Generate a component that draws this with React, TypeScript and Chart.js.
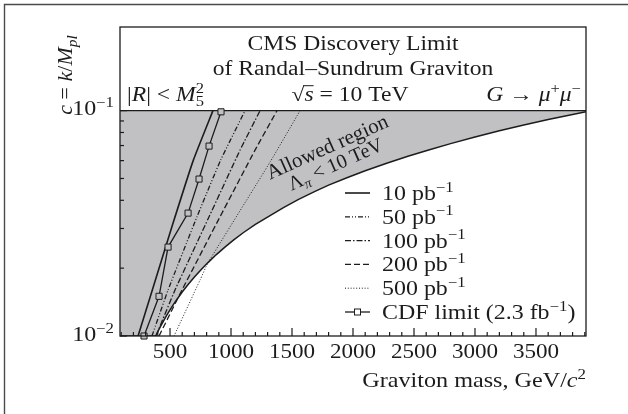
import React, { useEffect, useRef } from 'react';
import { Chart, registerables } from 'chart.js';

Chart.register(...registerables);

const FONT = '"Liberation Serif", "Times New Roman", Times, serif';
const INK = '#1c1c1c';
const SHADE = '#c1c1c4';

// Axes
const massRange = [90, 3910];
const cRange = [0.01, 0.235];
const massLabels = [500, 1000, 1500, 2000, 2500, 3000, 3500];
const cLabels = [0.01, 0.1];
const cLabelExp = ['−2', '−1'];
const cLimit = 0.1;

// Allowed-region boundary (Λπ < 10 TeV)
const boundaryMass = [
  90, 383, 400, 420, 445, 470, 500, 530, 565, 600, 650, 700, 760, 811, 880, 950, 1020, 1100, 1200, 1320, 1430, 1550,
  1680, 1800, 1950, 2100, 2270, 2450, 2620, 2800, 3000, 3200, 3400, 3600, 3750, 3910,
];
const boundaryC = [
  0.01, 0.01, 0.01044, 0.01097, 0.01162, 0.01227, 0.01305, 0.01384, 0.01475, 0.01567, 0.01697, 0.01828, 0.01984,
  0.02117, 0.02298, 0.0248, 0.02663, 0.02872, 0.0313, 0.0342, 0.0371, 0.0403, 0.0436, 0.0467, 0.0504, 0.0541, 0.0583,
  0.0627, 0.0669, 0.0714, 0.0764, 0.0814, 0.0863, 0.0913, 0.095, 0.0988,
];

// Discovery limits
const lumi10Mass = [238, 355, 511, 690, 852];
const lumi10C = [0.01, 0.016, 0.03, 0.06, 0.1];
const lumi50Mass = [352, 484, 721, 915, 1115];
const lumi50C = [0.01, 0.016, 0.0338, 0.0603, 0.1];
const lumi100Mass = [385, 541, 820, 1074, 1238];
const lumi100C = [0.01, 0.016, 0.0338, 0.0668, 0.1];
const lumi200Mass = [410, 598, 910, 1197, 1377];
const lumi200C = [0.01, 0.016, 0.0338, 0.0668, 0.1];
const lumi500Mass = [533, 746, 811, 1320, 1566];
const lumi500C = [0.01, 0.0177, 0.0211, 0.0591, 0.1];

// CDF limit
const cdfMass = [287, 410, 484, 648, 738, 820, 918];
const cdfC = [0.01, 0.015, 0.0248, 0.0351, 0.0497, 0.0696, 0.0988];

const lumiLabels = ['10', '50', '100', '200', '500'];
const cdfLabel = 'CDF limit (2.3 fb';

const pts = (m: number[], c: number[]) => m.map((x, i) => ({ x, y: c[i] }));

type Seg = { t?: string; it?: boolean; sup?: boolean; sub?: boolean; over?: boolean; stack?: [string, string] };

function fontOf(size: number, it?: boolean) {
  return `${it ? 'italic ' : ''}${size}px ${FONT}`;
}

function measure(ctx: CanvasRenderingContext2D, segs: Seg[], size: number) {
  return segs.map((s) => {
    if (s.stack) {
      ctx.font = fontOf(size * 0.7, s.it);
      return Math.max(ctx.measureText(s.stack[0]).width, ctx.measureText(s.stack[1]).width);
    }
    ctx.font = fontOf(s.sup || s.sub ? size * 0.7 : size, s.it);
    return ctx.measureText(s.t || '').width;
  });
}

function rich(
  ctx: CanvasRenderingContext2D,
  segs: Seg[],
  x: number,
  y: number,
  size: number,
  align: 'left' | 'center' | 'right',
  sx = 1,
  rot = 0
) {
  const ws = measure(ctx, segs, size);
  const total = ws.reduce((a, b) => a + b, 0);
  ctx.save();
  ctx.translate(x, y);
  if (rot) ctx.rotate(rot);
  ctx.scale(sx, 1);
  ctx.fillStyle = INK;
  ctx.strokeStyle = INK;
  ctx.textAlign = 'left';
  ctx.textBaseline = 'alphabetic';
  let cx = align === 'left' ? 0 : align === 'center' ? -total / 2 : -total;
  segs.forEach((s, i) => {
    if (s.stack) {
      ctx.font = fontOf(size * 0.7, s.it);
      ctx.fillText(s.stack[0], cx, -size * 0.42);
      ctx.fillText(s.stack[1], cx, size * 0.25);
    } else {
      const small = s.sup || s.sub;
      ctx.font = fontOf(small ? size * 0.7 : size, s.it);
      const dy = s.sup ? -size * 0.4 : s.sub ? size * 0.22 : 0;
      ctx.fillText(s.t || '', cx, dy);
      if (s.over) {
        ctx.lineWidth = 1;
        ctx.beginPath();
        ctx.moveTo(cx - 1, -size * 0.74);
        ctx.lineTo(cx + ws[i], -size * 0.74);
        ctx.stroke();
      }
    }
    cx += ws[i];
  });
  ctx.restore();
}

const lumiStyles = [
  { dash: [] as number[], width: 1.6 },
  { dash: [5, 2, 1, 2, 1, 2], width: 1.3 },
  { dash: [6, 2, 1.5, 2], width: 1.3 },
  { dash: [6, 3], width: 1.3 },
  { dash: [1, 1.8], width: 1 },
];

const decor = {
  id: 'decor',
  afterDatasetsDraw(chart: any) {
    const { ctx, chartArea: a, scales } = chart;
    const xs = scales.x;
    const ys = scales.y;
    ctx.save();
    ctx.strokeStyle = INK;
    ctx.lineWidth = 1.2;
    xs.ticks.forEach((t: any) => {
      const major = massLabels.includes(t.value);
      const px = xs.getPixelForValue(t.value);
      if (px <= a.left + 1 || px >= a.right - 1) return;
      ctx.beginPath();
      ctx.moveTo(px, a.bottom);
      ctx.lineTo(px, a.bottom - (major ? 8 : 4));
      ctx.stroke();
    });
    ys.ticks.forEach((t: any) => {
      if (t.value > cLimit * 1.0001) return;
      const lg = Math.log10(t.value);
      const major = Math.abs(lg - Math.round(lg)) < 1e-6;
      const py = ys.getPixelForValue(t.value);
      ctx.beginPath();
      ctx.moveTo(a.left, py);
      ctx.lineTo(a.left + (major ? 7 : 4), py);
      ctx.stroke();
    });
    ctx.lineWidth = 1.3;
    ctx.strokeRect(a.left, a.top, a.right - a.left, a.bottom - a.top);
    ctx.restore();
  },
  afterDraw(chart: any) {
    const { ctx, chartArea: a, scales } = chart;
    const xs = scales.x;
    const ys = scales.y;
    ctx.save();
    ctx.strokeStyle = '#4a4a4a';
    ctx.lineWidth = 1.4;
    ctx.beginPath();
    ctx.moveTo(628, 4.5);
    ctx.lineTo(4.5, 4.5);
    ctx.lineTo(4.5, 414);
    ctx.stroke();
    ctx.restore();

    const cx = (a.left + a.right) / 2;
    rich(ctx, [{ t: 'CMS Discovery Limit' }], cx, 50, 20, 'center', 1.18);
    rich(ctx, [{ t: 'of Randal–Sundrum Graviton' }], cx, 74.5, 20, 'center', 1.18);
    rich(ctx, [{ t: '|' }, { t: 'R', it: true }, { t: '| < ' }, { t: 'M', it: true }, { stack: ['2', '5'] }], a.left + 7, 101, 20, 'left', 1.18);
    rich(ctx, [{ t: '√' }, { t: 's', it: true, over: true }, { t: ' = 10 TeV' }], cx - 3, 100.5, 20, 'center', 1.18);
    rich(
      ctx,
      [{ t: 'G', it: true }, { t: ' → ' }, { t: 'μ', it: true }, { t: '+', sup: true }, { t: 'μ', it: true }, { t: '−', sup: true }],
      a.right - 5,
      100.5,
      20,
      'right',
      1.18
    );

    const ang = (-24 * Math.PI) / 180;
    rich(ctx, [{ t: 'Allowed region' }], 330, 153, 21, 'center', 1, ang);
    rich(ctx, [{ t: 'Λ' }, { t: 'π', it: true, sub: true }, { t: ' < 10 TeV' }], 338, 170, 20, 'center', 1, ang);

    massLabels.forEach((v) => {
      rich(ctx, [{ t: String(v) }], xs.getPixelForValue(v), 358, 21, 'center', 1.1);
    });
    cLabels.forEach((v, i) => {
      rich(ctx, [{ t: '10' }, { t: cLabelExp[i], sup: true }], a.left - 6, ys.getPixelForValue(v) + 4.5, 20, 'right', 1.2);
    });
    rich(ctx, [{ t: 'Graviton mass, GeV/' }, { t: 'c', it: true }, { t: '2', sup: true }], a.right, 387, 21, 'right', 1.15);
    rich(
      ctx,
      [{ t: 'c', it: true }, { t: ' = ' }, { t: 'k', it: true }, { t: '/' }, { t: 'M', it: true }, { t: 'pl', it: true, sub: true }],
      72,
      75,
      22,
      'center',
      1,
      -Math.PI / 2
    );

    const lx0 = 345;
    const lx1 = 370;
    const tx = 382;
    const y0 = 193;
    const step = 23.8;
    ctx.save();
    ctx.strokeStyle = INK;
    lumiLabels.forEach((lab, i) => {
      const y = y0 + step * i;
      ctx.lineWidth = lumiStyles[i].width;
      ctx.setLineDash(lumiStyles[i].dash);
      ctx.beginPath();
      ctx.moveTo(lx0, y);
      ctx.lineTo(lx1, y);
      ctx.stroke();
      rich(ctx, [{ t: lab + ' pb' }, { t: '−1', sup: true }], tx, y + 7, 21, 'left', 1.14);
    });
    const yc = y0 + step * lumiLabels.length;
    ctx.setLineDash([]);
    ctx.lineWidth = 1.3;
    ctx.beginPath();
    ctx.moveTo(lx0, yc);
    ctx.lineTo(lx1, yc);
    ctx.stroke();
    ctx.fillStyle = '#ffffff';
    ctx.lineWidth = 1;
    ctx.fillRect(354.5, yc - 3, 6, 6);
    ctx.strokeRect(354.5, yc - 3, 6, 6);
    ctx.restore();
    rich(ctx, [{ t: cdfLabel }, { t: '−1', sup: true }, { t: ')' }], tx, yc + 7, 21, 'left', 1.14);
  },
};

const App = () => {
  const ref = useRef<HTMLCanvasElement>(null);
  useEffect(() => {
    const canvas = ref.current;
    if (!canvas) return;
    const lumiData = [
      pts(lumi10Mass, lumi10C),
      pts(lumi50Mass, lumi50C),
      pts(lumi100Mass, lumi100C),
      pts(lumi200Mass, lumi200C),
      pts(lumi500Mass, lumi500C),
    ];
    const datasets: any[] = [
      {
        label: 'CDF',
        data: pts(cdfMass, cdfC),
        borderColor: INK,
        borderWidth: 1.3,
        pointStyle: 'rect',
        pointRadius: 4.3,
        pointBorderWidth: 1,
        pointBorderColor: INK,
        pointBackgroundColor: SHADE,
        tension: 0,
        fill: false,
        clip: false,
      },
      ...lumiData.map((d, i) => ({
        label: lumiLabels[i],
        data: d,
        borderColor: INK,
        borderWidth: lumiStyles[i].width,
        borderDash: lumiStyles[i].dash,
        pointRadius: 0,
        tension: 0.15,
        fill: false,
      })),
      {
        label: 'limit',
        data: pts([massRange[0], massRange[1]], [cLimit, cLimit]),
        borderColor: INK,
        borderWidth: 1.4,
        pointRadius: 0,
        fill: false,
      },
      {
        label: 'boundary',
        data: pts(boundaryMass, boundaryC),
        borderColor: INK,
        borderWidth: 1.5,
        pointRadius: 0,
        tension: 0,
        fill: { target: { value: cLimit }, above: SHADE, below: SHADE },
      },
    ];
    const chart = new Chart(canvas, {
      type: 'line',
      data: { datasets },
      options: {
        animation: false,
        responsive: false,
        maintainAspectRatio: false,
        events: [],
        layout: { padding: { left: 0, top: 27, right: 42, bottom: 0 } },
        plugins: {
          legend: { display: false },
          tooltip: { enabled: false },
          filler: { drawTime: 'beforeDatasetsDraw' },
        },
        scales: {
          x: {
            type: 'linear',
            min: massRange[0],
            max: massRange[1],
            afterFit: (s: any) => {
              s.height = 78;
            },
            grid: { display: false },
            border: { display: false },
            ticks: { display: false, stepSize: 100, includeBounds: false },
          },
          y: {
            type: 'logarithmic',
            min: cRange[0],
            max: cRange[1],
            afterFit: (s: any) => {
              s.width = 120;
            },
            grid: { display: false },
            border: { display: false },
            ticks: { display: false },
          },
        },
      } as any,
      plugins: [decor],
    });
    return () => chart.destroy();
  }, []);
  return (
    <div style={{ position: 'fixed', left: 0, top: 0, width: 628, height: 414, background: '#ffffff' }}>
      <canvas ref={ref} width={628} height={414} style={{ width: 628, height: 414, display: 'block' }} />
    </div>
  );
};

export default App;
